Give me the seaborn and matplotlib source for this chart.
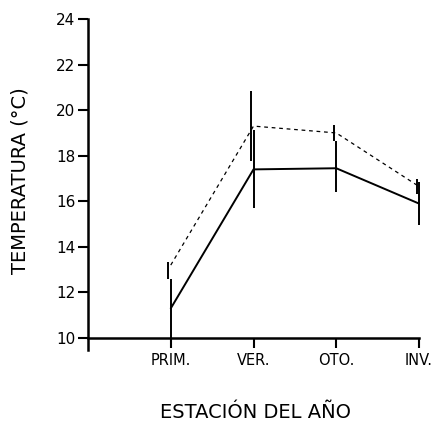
import matplotlib
matplotlib.use("Agg")
import matplotlib.pyplot as plt
import seaborn as sns
import pandas as pd
import numpy as np

categories = ["PRIM.", "VER.", "OTO.", "INV."]
solid_mean = [11.3, 17.4, 17.45, 15.9]
solid_err_low = [1.3, 1.7, 1.05, 0.95]
solid_err_high = [1.3, 1.75, 1.2, 0.95]
dashed_mean = [13.2, 19.3, 19.0, 16.65]
dashed_err_low = [0.6, 1.55, 0.35, 0.35]
dashed_err_high = [0.15, 1.55, 0.35, 0.35]
yticks = [10, 12, 14, 16, 18, 20, 22, 24]

sns.set_theme(style="white")
plt.rcParams['font.family'] = ['DejaVu Sans']
plt.rcParams['text.color'] = 'black'
plt.rcParams['xtick.color'] = 'black'
plt.rcParams['ytick.color'] = 'black'

pos = np.arange(1, len(categories) + 1)
df = pd.DataFrame({
    "x": np.concatenate([pos, pos]),
    "temp": solid_mean + dashed_mean,
    "serie": ["a"] * len(pos) + ["b"] * len(pos),
})

fig = plt.figure(figsize=(4.42, 4.26), dpi=100)
ax = fig.add_axes([88/442, 1 - 350/426, (419 - 88)/442, (350 - 19)/426])

sns.lineplot(data=df[df.serie == "a"], x="x", y="temp", ax=ax, color="black",
             linewidth=1.4, estimator=None, legend=False)
sns.lineplot(data=df[df.serie == "b"], x="x", y="temp", ax=ax, color="black",
             linewidth=0.9, estimator=None, legend=False)
ax.lines[-1].set_linestyle((0, (3, 3)))

ax.errorbar(pos, solid_mean, yerr=[solid_err_low, solid_err_high], fmt="none",
            ecolor="black", elinewidth=1.4, capsize=0, clip_on=False)
ax.errorbar(pos - 0.03, dashed_mean, yerr=[dashed_err_low, dashed_err_high], fmt="none",
            ecolor="black", elinewidth=1.4, capsize=0, clip_on=False)

ax.set_xlim(0, 4)
ax.set_ylim(10 - 12/22.8, 24)
ax.spines['bottom'].set_position(('data', 10))
for s in ['top', 'right']:
    ax.spines[s].set_visible(False)
for s in ['left', 'bottom']:
    ax.spines[s].set_linewidth(1.8)
    ax.spines[s].set_color("black")
ax.set_xticks(pos)
ax.set_xticklabels(categories, fontsize=10.5)
ax.set_yticks(yticks)
ax.set_yticklabels([str(v) for v in yticks], fontsize=11)
ax.tick_params(axis='x', direction='out', length=7, width=1.5, pad=4, bottom=True)
ax.tick_params(axis='y', direction='out', length=7, width=1.5, pad=2, left=True)
ax.set_xlabel("")
ax.set_ylabel("")
for l in ax.get_lines():
    l.set_clip_on(False)

fig.text(20/442, 1 - 181/426, "TEMPERATURA (°C)", rotation=90, fontsize=14,
         ha="center", va="center")
fig.text(256/442, 1 - 413/426, "ESTACIÓN DEL AÑO", fontsize=14,
         ha="center", va="center")

fig.savefig("out.png", dpi=100)
